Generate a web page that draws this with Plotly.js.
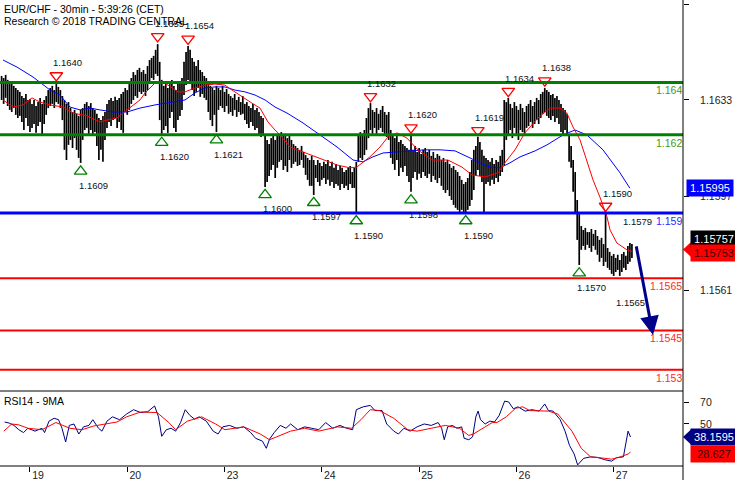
<!DOCTYPE html>
<html><head><meta charset="utf-8">
<script src="https://cdn.plot.ly/plotly-3.0.1.min.js"></script>
<style>html,body{margin:0;padding:0;background:#fff}#chart{width:735px;height:480px}</style>
</head><body><div id="chart"></div>
<script>
// ---- x axis (bar index of 30-min bars) ----
const dayTickIdx = [14, 62, 110, 158, 206, 254, 302];
const dayLabels = ["19", "20", "23", "24", "25", "26", "27"];

// ---- price bars (high / low per 30-min bar) ----
const high = [
1.16425,1.16417,1.16429,1.16410,1.16394,1.16398,1.16387,1.16379,1.16371,1.16364,
1.16348,1.16341,1.16356,1.16333,1.16337,1.16318,1.16333,1.16310,1.16325,1.16341,
1.16318,1.16333,1.16348,1.16371,1.16379,1.16387,1.16371,1.16398,1.16383,1.16371,
1.16348,1.16333,1.16318,1.16325,1.16302,1.16287,1.16295,1.16280,1.16272,1.16295,
1.16302,1.16318,1.16325,1.16310,1.16321,1.16302,1.16295,1.16280,1.16264,1.16256,
1.16272,1.16287,1.16318,1.16333,1.16341,1.16329,1.16345,1.16333,1.16341,1.16356,
1.16364,1.16379,1.16371,1.16394,1.16417,1.16440,1.16429,1.16448,1.16456,1.16440,
1.16448,1.16433,1.16463,1.16486,1.16494,1.16502,1.16525,1.16547,1.16479,1.16410,
1.16387,1.16402,1.16379,1.16394,1.16410,1.16387,1.16371,1.16394,1.16402,1.16417,
1.16479,1.16517,1.16540,1.16525,1.16494,1.16479,1.16463,1.16486,1.16448,1.16440,
1.16425,1.16417,1.16394,1.16387,1.16379,1.16371,1.16387,1.16379,1.16371,1.16387,
1.16364,1.16375,1.16356,1.16348,1.16341,1.16356,1.16333,1.16345,1.16325,1.16348,
1.16318,1.16325,1.16310,1.16302,1.16318,1.16295,1.16302,1.16287,1.16272,1.16264,
1.16195,1.16180,1.16164,1.16187,1.16203,1.16180,1.16195,1.16203,1.16210,1.16195,
1.16203,1.16187,1.16195,1.16180,1.16164,1.16157,1.16149,1.16142,1.16157,1.16134,
1.16122,1.16111,1.16103,1.16119,1.16103,1.16084,1.16103,1.16092,1.16080,1.16096,
1.16088,1.16103,1.16080,1.16096,1.16073,1.16088,1.16065,1.16080,1.16073,1.16057,
1.16065,1.16073,1.16080,1.16057,1.16073,1.16096,1.16195,1.16210,1.16203,1.16218,
1.16264,1.16302,1.16321,1.16295,1.16287,1.16302,1.16280,1.16295,1.16310,1.16287,
1.16276,1.16287,1.16218,1.16203,1.16187,1.16195,1.16172,1.16180,1.16164,1.16157,
1.16149,1.16142,1.16199,1.16142,1.16157,1.16134,1.16149,1.16126,1.16142,1.16149,
1.16134,1.16142,1.16119,1.16134,1.16111,1.16126,1.16119,1.16103,1.16111,1.16096,
1.16103,1.16088,1.16073,1.16080,1.16065,1.16057,1.16042,1.16027,1.16011,1.16019,
1.16034,1.16057,1.16103,1.16142,1.16157,1.16191,1.16172,1.16142,1.16119,1.16111,
1.16103,1.16096,1.16111,1.16088,1.16103,1.16096,1.16119,1.16142,1.16333,1.16325,
1.16341,1.16318,1.16302,1.16325,1.16310,1.16295,1.16318,1.16302,1.16287,1.16310,
1.16318,1.16333,1.16310,1.16325,1.16341,1.16333,1.16356,1.16364,1.16379,1.16371,
1.16364,1.16352,1.16356,1.16341,1.16348,1.16333,1.16318,1.16302,1.16295,1.16280,
1.16195,1.16157,1.16103,1.16057,1.15950,1.15896,1.15850,1.15835,1.15843,1.15827,
1.15827,1.15839,1.15820,1.15835,1.15812,1.15797,1.15805,1.15781,1.15900,1.15766,
1.15751,1.15736,1.15743,1.15728,1.15740,1.15720,1.15743,1.15751,1.15736,1.15774,
1.15785,1.15781];
const low = [
1.16333,1.16318,1.16341,1.16310,1.16295,1.16287,1.16302,1.16276,1.16264,1.16272,
1.16249,1.16218,1.16264,1.16233,1.16210,1.16226,1.16241,1.16207,1.16233,1.16249,
1.16203,1.16241,1.16276,1.16302,1.16310,1.16318,1.16302,1.16325,1.16318,1.16302,
1.16256,1.16142,1.16103,1.16161,1.16180,1.16149,1.16187,1.16142,1.16111,1.16092,
1.16180,1.16218,1.16226,1.16203,1.16218,1.16195,1.16210,1.16157,1.16103,1.16142,
1.16096,1.16180,1.16226,1.16249,1.16233,1.16256,1.16264,1.16226,1.16249,1.16218,
1.16207,1.16287,1.16276,1.16295,1.16318,1.16333,1.16348,1.16341,1.16364,1.16356,
1.16364,1.16348,1.16371,1.16402,1.16417,1.16410,1.16433,1.16425,1.16256,1.16199,
1.16218,1.16233,1.16207,1.16264,1.16287,1.16226,1.16210,1.16256,1.16272,1.16295,
1.16352,1.16390,1.16410,1.16394,1.16371,1.16348,1.16364,1.16379,1.16345,1.16356,
1.16341,1.16333,1.16287,1.16256,1.16233,1.16276,1.16210,1.16295,1.16310,1.16302,
1.16287,1.16310,1.16280,1.16287,1.16272,1.16295,1.16268,1.16287,1.16276,1.16280,
1.16256,1.16241,1.16226,1.16249,1.16233,1.16218,1.16226,1.16203,1.16191,1.16195,
1.16000,1.16019,1.16042,1.16065,1.16084,1.16034,1.16073,1.16096,1.16103,1.16065,
1.16080,1.16057,1.16103,1.16073,1.16088,1.16096,1.16080,1.16084,1.16103,1.16073,
1.16046,1.16027,1.16004,1.16004,1.15969,1.16034,1.16019,1.16004,1.16027,1.16034,
1.16011,1.16027,1.16004,1.16019,1.15996,1.16011,1.16004,1.15988,1.16011,1.15996,
1.16004,1.15988,1.16011,1.15996,1.15996,1.15900,1.16096,1.16111,1.16103,1.16122,
1.16142,1.16187,1.16218,1.16203,1.16226,1.16195,1.16218,1.16226,1.16210,1.16199,
1.16191,1.16180,1.16111,1.16088,1.16065,1.16103,1.16042,1.16073,1.16057,1.16080,
1.16042,1.16019,1.15981,1.16034,1.16057,1.16027,1.16050,1.16034,1.16057,1.16042,
1.16034,1.16050,1.16019,1.16042,1.16027,1.16015,1.16034,1.16004,1.15988,1.15977,
1.15988,1.15965,1.15950,1.15931,1.15920,1.15912,1.15904,1.15912,1.15900,1.15900,
1.15912,1.15927,1.15950,1.15988,1.16042,1.16065,1.16042,1.16019,1.15900,1.16011,
1.16019,1.16004,1.16027,1.16011,1.16034,1.16019,1.16042,1.16057,1.16084,1.16180,
1.16199,1.16218,1.16187,1.16226,1.16203,1.16180,1.16218,1.16210,1.16195,1.16226,
1.16233,1.16249,1.16226,1.16241,1.16256,1.16241,1.16264,1.16280,1.16287,1.16272,
1.16264,1.16256,1.16272,1.16249,1.16264,1.16241,1.16210,1.16203,1.16218,1.16195,
1.16096,1.16073,1.15981,1.15900,1.15797,1.15701,1.15759,1.15774,1.15759,1.15778,
1.15766,1.15751,1.15774,1.15759,1.15740,1.15713,1.15728,1.15697,1.15713,1.15690,
1.15682,1.15667,1.15659,1.15674,1.15682,1.15659,1.15674,1.15690,1.15682,1.15705,
1.15713,1.15728];
const lastPrice = 1.15757;

// ---- moving averages on price ----
const fastMaIdx = [0.7,5.6,10.6,15,18.9,23.9,30.3,35.2,42.1,48.5,52,56.9,61.9,68.3,70.8,75.7,79.1,82.1,87,90.5,95.4,100.3,105.3,110.2,113.7,118.6,123.5,127.5,131.4,134.9,137.4,142.3,148.7,157.1,165.5,171.9,175.3,181.7,186.7,190.6,195.1,200,205.4,212.3,220.2,227.1,232.1,238.5,244.9,248.3,253.3,258.2,264.6,270.6,275.5,278.9,281.9,285.4,288.8,291.8,295.2,298.7,300.2,303.6,308.5,311];
const fastMa = [1.16333,1.16306,1.16314,1.16341,1.16325,1.16314,1.16306,1.16283,1.16272,1.16249,1.16256,1.16264,1.16295,1.16333,1.16360,1.16398,1.16402,1.16390,1.16364,1.16364,1.16379,1.16390,1.16394,1.16390,1.16371,1.16345,1.16321,1.16302,1.16249,1.16218,1.16199,1.16153,1.16134,1.16111,1.16084,1.16073,1.16076,1.16115,1.16153,1.16191,1.16207,1.16187,1.16142,1.16103,1.16103,1.16076,1.16046,1.16038,1.16054,1.16092,1.16142,1.16207,1.16264,1.16302,1.16302,1.16283,1.16230,1.16180,1.16103,1.16027,1.15961,1.15885,1.15835,1.15785,1.15759,1.15753];
const slowMaIdx = [0.7,7.6,15.5,23.9,28.8,33.7,38.7,43.6,48.5,55,61.9,68.3,75.7,85.5,90.5,95.4,100.3,105.3,110.2,115.1,120.1,125,130,134.9,140.8,148.7,157.1,165.5,173.4,178.3,183.2,188.2,195.1,201.5,208.9,216.3,223.7,231.1,236,241,245.9,250.8,255.8,263.2,269.1,277,282.9,288.8,296.7,305.1,310];
const slowMa = [1.16486,1.16459,1.16421,1.16371,1.16352,1.16306,1.16295,1.16302,1.16295,1.16287,1.16287,1.16302,1.16314,1.16325,1.16333,1.16360,1.16379,1.16383,1.16383,1.16371,1.16364,1.16352,1.16333,1.16306,1.16283,1.16245,1.16199,1.16153,1.16103,1.16096,1.16115,1.16130,1.16134,1.16138,1.16142,1.16142,1.16138,1.16111,1.16092,1.16076,1.16073,1.16092,1.16115,1.16138,1.16161,1.16199,1.16218,1.16199,1.16142,1.16054,1.15995];

// ---- RSI14 and its 9MA ----
const rsiIdx = [1.5,3.8,6.1,8.5,10.8,13,16.5,19.9,21.2,23.4,25.9,28.1,29.8,31.6,33.4,35.7,38.1,40.4,43.1,45,47.8,49.5,52,54.7,58.2,61.7,65.1,68.6,72.1,75.5,77.4,79,81.3,83.6,85.9,88.3,90.6,92.9,95.2,97.5,101,104.4,106.8,109.1,112.5,116,119.5,122.9,125.3,128.7,130.6,132.2,134.5,137.5,140.3,142.6,146.1,149.5,153,156.5,159.9,163.4,166.9,170.3,173.2,175,178.4,181.9,184.2,187.7,190,193.5,195.8,198.5,201.6,205,208.5,212,215.4,217.1,218.4,220.1,222.4,224.7,227,228.2,230.5,232.4,234,235.1,236.3,238.6,240.9,243.2,245.5,248.2,250.2,252.5,254.8,258.3,261.7,265.2,268,269.8,272.1,275.6,278,280.2,282.5,284.2,287.2,290.6,294.1,297.6,301,303.4,306.8,309.1,310.3];
const rsi = [51.8,50.8,48.7,44.8,42.2,46.1,43.5,46.1,42.2,52.6,55.2,53.9,46.1,33.6,48.7,50,40.9,47.4,48.7,53.9,46.1,43.5,52.6,56.5,53.9,59.1,63,60.4,61.2,66.4,56.5,38.8,44.8,46.1,43.5,51.3,63,57.8,54.4,56.5,52.6,43.5,40.9,47.4,48.7,46.1,47.4,42.2,37,34.4,27.9,36.2,42.2,48.7,46.1,50,44.8,47.4,46.1,44.8,51.3,46.1,48.7,46.1,44.8,63,65.6,66.9,62.2,62.2,50,43.5,40.9,46.1,43.5,47.4,50,48.7,51.3,46.1,35.7,47.4,48.7,46.1,47.4,37,35.7,38.3,56.5,61.7,53.9,50,52.6,51.8,57.8,70.8,70,63.8,65.6,61.7,63,61.7,68.2,62.2,61.7,53.9,43.5,30.5,22.7,12.8,18.8,20.1,19.6,17.5,16.2,19.4,20.1,43.5,38.1595];
const rsiMaIdx = [1.1,5,8.5,13,19.9,26.8,33.7,39.7,45.5,51.3,56.9,61.7,68.6,76.7,82.5,85.9,91.7,98.7,105.6,110.2,119.5,127.6,132.2,135.7,142.6,149.5,156.5,165.7,172.7,177.3,181.9,186.5,193.5,200.4,205,212,218.9,225.9,230.5,232.8,237.4,242.1,244.4,249,253.6,257.1,260.6,269.8,274.4,281.4,286,290.6,297.6,301,304.5,309.1,310.3];
const rsiMa = [43.5,50,49.2,46.1,44.8,51.3,46.1,44.8,48.2,50,51.8,56.5,60.9,60.4,51.3,44.8,52.6,56.5,50,44.8,47.4,40.9,35.7,38.3,43.5,46.1,43.5,47.4,46.1,53.9,63,62.2,55.2,44.8,43.5,46.1,48.7,46.1,39.6,40.9,46.1,51.3,51.3,56.5,64.3,65.6,62.2,61.7,59.1,43.5,27.9,20.1,18.8,18,19.6,22.7,24.5];
const rsiLast = 38.1595, rsiMaLast = 28.627;

// ---- swing highs / lows ----
const peakIdx = [27, 77, 92, 182, 202, 235, 250, 268, 298];
const peakPrice = [1.1640, 1.1655, 1.1654, 1.1632, 1.1620, 1.1619, 1.1634, 1.1638, 1.1590];
const troughIdx = [39, 79, 106, 130, 154, 175, 202, 229, 285];
const troughPrice = [1.1609, 1.1620, 1.1621, 1.1600, 1.1597, 1.1590, 1.1598, 1.1590, 1.1570];

// ---- key levels ----
const resistanceLevels = [1.164, 1.162];
const pivotLevels = [1.159];
const supportLevels = [1.1565, 1.1545, 1.153];
const noteText = ["1.1579", "1.1565"];
const noteIdx = [305.5, 302];
const notePrice = [1.1579, 1.1565];
const arrowFrom = {idx: 313, price: 1.15778};
const arrowTo = {idx: 321.4, price: 1.15433};
const slowMaLast = 1.15995, fastMaLast = 1.15753;

// ---- axis ticks ----
const priceTickVals = [1.16697, 1.16333, 1.15965, 1.15605];
const priceTickText = ["1.1670", "1.1633", "1.1597", "1.1561"];
const rsiTickVals = [70, 50];

const FONT = "Liberation Sans, Arial, sans-serif";
const PX = 0.0000383; // price per pixel on main panel

// build bar segments
const bx = [], by = [];
for (let i = 0; i < high.length; i++) {
  bx.push(i, i, null); by.push(low[i], high[i], null);
}

const traces = [
  {x: bx, y: by, type: 'scatter', mode: 'lines', line: {color: '#000', width: 1.7}, hoverinfo: 'skip', xaxis: 'x', yaxis: 'y'},
  {x: slowMaIdx, y: slowMa, type: 'scatter', mode: 'lines', line: {color: '#0000ff', width: 1}, xaxis: 'x', yaxis: 'y'},
  {x: fastMaIdx, y: fastMa, type: 'scatter', mode: 'lines', line: {color: '#ff0000', width: 1}, xaxis: 'x', yaxis: 'y'},
  {x: peakIdx, y: peakPrice.map(p => p + 7 * PX), type: 'scatter', mode: 'markers',
   marker: {symbol: 'triangle-down-open', size: 11, color: '#ff0000', line: {width: 1.3, color: '#ff0000'}}, xaxis: 'x', yaxis: 'y'},
  {x: troughIdx, y: troughPrice.map(p => p - 8 * PX), type: 'scatter', mode: 'markers',
   marker: {symbol: 'triangle-up-open', size: 11, color: '#008000', line: {width: 1.3, color: '#008000'}}, xaxis: 'x', yaxis: 'y'},
  {x: rsiIdx, y: rsi, type: 'scatter', mode: 'lines', line: {color: '#000080', width: 1}, xaxis: 'x', yaxis: 'y2'},
  {x: rsiMaIdx, y: rsiMa, type: 'scatter', mode: 'lines', line: {color: '#ff0000', width: 1}, xaxis: 'x', yaxis: 'y2'}
];

const shapes = [];
const annotations = [];
function level(v, color, w, labelColor) {
  shapes.push({type: 'line', xref: 'paper', x0: 0, x1: 1, yref: 'y', y0: v, y1: v, line: {color: color, width: w}});
  annotations.push({xref: 'paper', x: 1, xanchor: 'right', yref: 'y', y: v, yanchor: 'top', yshift: -1,
    text: String(v), showarrow: false, font: {family: FONT, size: 10.5, color: labelColor}, borderpad: 0});
}
resistanceLevels.forEach(v => level(v, '#008000', 3, '#3f9a1f'));
pivotLevels.forEach(v => level(v, '#0000ff', 3, '#2a2aff'));
supportLevels.forEach(v => level(v, '#ff0000', 2, '#ff2a2a'));

peakIdx.forEach((ix, k) => annotations.push({x: ix, y: peakPrice[k], xref: 'x', yref: 'y', xanchor: 'left', yanchor: 'middle',
  xshift: -5, yshift: 20, text: peakPrice[k].toFixed(4), showarrow: false, font: {family: FONT, size: 9.5, color: '#111'}}));
troughIdx.forEach((ix, k) => annotations.push({x: ix, y: troughPrice[k], xref: 'x', yref: 'y', xanchor: 'left', yanchor: 'middle',
  xshift: -4, yshift: -22, text: troughPrice[k].toFixed(4), showarrow: false, font: {family: FONT, size: 9.5, color: '#111'}}));
noteText.forEach((t, k) => annotations.push({x: noteIdx[k], y: notePrice[k], xref: 'x', yref: 'y', xanchor: 'left', yanchor: 'middle',
  yshift: k === 0 ? 20 : -24, text: t, showarrow: false, font: {family: FONT, size: 9.5, color: '#111'}}));

// forecast arrow
annotations.push({x: arrowTo.idx, y: arrowTo.price, xref: 'x', yref: 'y', ax: arrowFrom.idx, ay: arrowFrom.price, axref: 'x', ayref: 'y',
  text: '', showarrow: true, arrowhead: 2, arrowsize: 1.25, arrowwidth: 3, arrowcolor: '#00008b'});

// titles
annotations.push({xref: 'paper', yref: 'paper', x: 0, y: 1, xanchor: 'left', yanchor: 'top', xshift: 2, yshift: -1,
  text: 'EUR/CHF - 30min - 5:39:26 (CET)', showarrow: false, font: {family: FONT, size: 10.5, color: '#000'}});
annotations.push({xref: 'paper', yref: 'paper', x: 0, y: 1, xanchor: 'left', yanchor: 'top', xshift: 2, yshift: -13,
  text: 'Research © 2018 TRADING CENTRAL', showarrow: false, font: {family: FONT, size: 10.5, color: '#000'}});

const rsiTop = 1 - 391 / 480, rsiBottom = 1 - 466 / 480, mainBottom = 1 - 390 / 480;
annotations.push({xref: 'paper', yref: 'paper', x: 0, y: rsiTop, xanchor: 'left', yanchor: 'top', xshift: 2, yshift: -2,
  text: 'RSI14 - 9MA', showarrow: false, font: {family: FONT, size: 10.5, color: '#000'}});

// right side value boxes
function box(text, yref, y, bg, fg, xshift, yshift) {
  annotations.push({xref: 'paper', x: 1, xanchor: 'left', xshift: xshift, yref: yref, y: y, yanchor: 'middle', yshift: yshift,
    text: text, showarrow: false, bgcolor: bg, width: 42, height: 12, borderpad: 2, align: 'center',
    font: {family: FONT, size: 11, color: fg}});
}
function tip(yref, y, color, yshift) {
  shapes.push({type: 'path', xref: 'paper', xsizemode: 'pixel', xanchor: 1, yref: yref, ysizemode: 'pixel', yanchor: y,
    path: 'M0,' + (-yshift) + ' L8,' + (-yshift + 7.5) + ' L8,' + (-yshift - 7.5) + ' Z', fillcolor: color, line: {width: 0}});
}
box(slowMaLast.toFixed(5), 'y', slowMaLast, '#0000ff', '#fff', 3, 0);
box(lastPrice.toFixed(5), 'y', lastPrice, '#000', '#fff', 7, 11);
box(fastMaLast.toFixed(5), 'y', fastMaLast, '#ff0000', '#3a0000', 7, -2);
tip('y', fastMaLast, '#ff0000', -2);
box(String(rsiLast), 'y2', rsiLast, '#000080', '#fff', 7, 0);
tip('y2', rsiLast, '#000080', 0);
box(String(rsiMaLast), 'y2', rsiMaLast, '#ff0000', '#3a0000', 7, -6);

// frame lines
shapes.push({type: 'line', xref: 'paper', yref: 'paper', x0: 0, x1: 1, y0: rsiTop, y1: rsiTop, line: {color: '#000', width: 1}});
shapes.push({type: 'line', xref: 'paper', yref: 'paper', x0: 0, x1: 1, y0: rsiBottom, y1: rsiBottom, line: {color: '#000', width: 1}});
shapes.push({type: 'line', xref: 'paper', yref: 'paper', x0: 1, x1: 1, y0: 0, y1: 1, line: {color: '#000', width: 1}});

const layout = {
  width: 735, height: 480,
  margin: {l: 0, r: 52, t: 0, b: 0, pad: 0},
  paper_bgcolor: '#fff', plot_bgcolor: '#fff',
  showlegend: false, hovermode: false,
  xaxis: {range: [-0.79, 336.2], anchor: 'y2', domain: [0, 1], tickvals: dayTickIdx, ticktext: dayLabels,
    ticks: 'outside', ticklen: 5, tickcolor: '#000', tickwidth: 1, showline: false, showgrid: false, zeroline: false,
    ticklabelshift: 8, ticklabelstandoff: -6, tickfont: {family: FONT, size: 10.5, color: '#222'}},
  yaxis: {domain: [mainBottom, 1], range: [1.15222, 1.16716], side: 'right', anchor: 'x', showline: false,
    tickvals: priceTickVals, ticktext: priceTickText, ticks: 'outside', ticklen: 5, tickcolor: '#000',
    showgrid: false, zeroline: false, ticklabelstandoff: 9, tickfont: {family: FONT, size: 10.5, color: '#222'}},
  yaxis2: {domain: [rsiBottom, rsiTop], range: [11.8, 80], side: 'right', anchor: 'x', showline: false,
    tickvals: rsiTickVals, ticks: 'outside', ticklen: 5, tickcolor: '#000',
    showgrid: false, zeroline: false, ticklabelstandoff: 9, tickfont: {family: FONT, size: 10.5, color: '#222'}},
  shapes: shapes,
  annotations: annotations
};
Plotly.newPlot('chart', traces, layout, {staticPlot: true, displayModeBar: false});
</script>
</body></html>
